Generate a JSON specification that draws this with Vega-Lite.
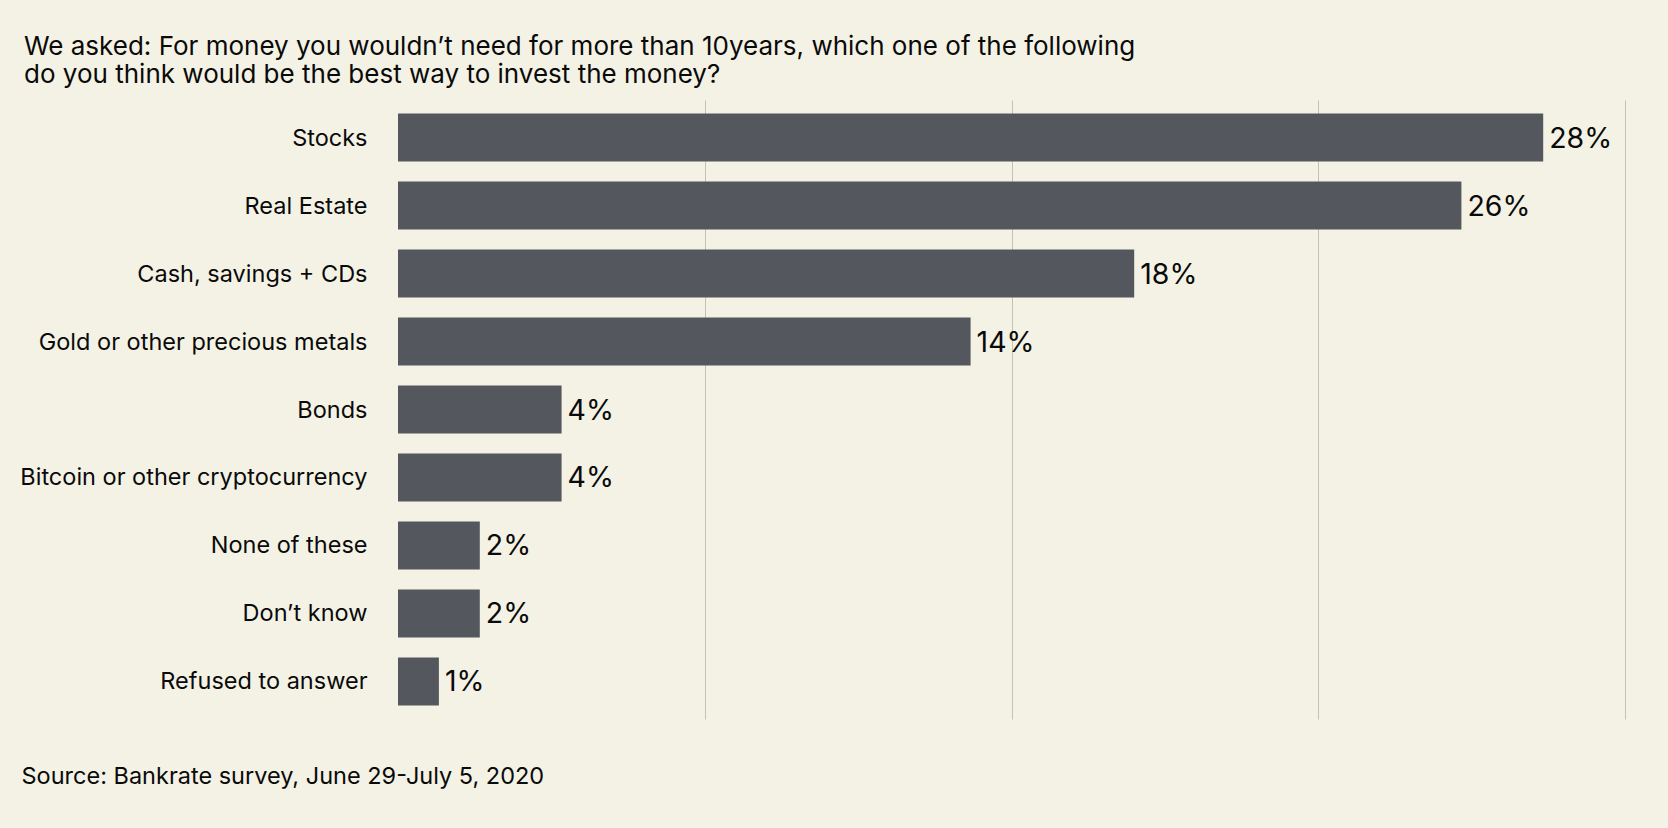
{
  "$schema": "https://vega.github.io/schema/vega-lite/v6.json",
  "width": 1227,
  "height": 619,
  "autosize": {"type": "none"},
  "padding": {"left": 398, "top": 100, "right": 43, "bottom": 109},
  "background": "#F4F2E5",
  "title": {
    "text": ["We asked: For money you wouldn’t need for more than 10years, which one of the following", "do you think would be the best way to invest the money?"],
    "anchor": "start",
    "frame": "group",
    "dx": -374,
    "offset": -9,
    "baseline": "alphabetic",
    "lineHeight": 28,
    "font": "Inter",
    "fontSize": 26,
    "fontWeight": "normal",
    "color": "#0A0A0A"
  },
  "data": {
    "values": [
      {"answer": "Stocks", "share": 0.28},
      {"answer": "Real Estate", "share": 0.26},
      {"answer": "Cash, savings + CDs", "share": 0.18},
      {"answer": "Gold or other precious metals", "share": 0.14},
      {"answer": "Bonds", "share": 0.04},
      {"answer": "Bitcoin or other cryptocurrency", "share": 0.04},
      {"answer": "None of these", "share": 0.02},
      {"answer": "Don’t know", "share": 0.02},
      {"answer": "Refused to answer", "share": 0.01}
    ]
  },
  "encoding": {
    "y": {
      "field": "answer",
      "type": "nominal",
      "sort": null,
      "scale": {"paddingInner": 0.294, "paddingOuter": 0.2},
      "axis": {
        "title": null,
        "ticks": false,
        "domain": false,
        "labelPadding": 31,
        "labelFont": "Inter",
        "labelFontSize": 23.5,
        "labelColor": "#0A0A0A",
        "labelLimit": 0,
        "labelOffset": 1
      }
    },
    "x": {
      "field": "share",
      "type": "quantitative",
      "scale": {"domain": [0, 0.3], "nice": false},
      "axis": {
        "values": [0.075, 0.15, 0.225, 0.3],
        "labels": false,
        "ticks": false,
        "domain": false,
        "grid": true,
        "gridColor": "#C4C2B8",
        "gridWidth": 1,
        "title": "Source: Bankrate survey, June 29-July 5, 2020",
        "titleX": -377,
        "titleY": 64,
        "titleAlign": "left",
        "titleBaseline": "alphabetic",
        "titleFont": "Inter",
        "titleFontSize": 23.5,
        "titleFontWeight": "normal",
        "titleColor": "#0A0A0A"
      }
    }
  },
  "layer": [
    {"mark": {"type": "bar", "color": "#54585E"}},
    {
      "mark": {"type": "text", "align": "left", "baseline": "middle", "dx": 6, "dy": 1, "font": "Inter", "fontSize": 28.5, "color": "#0A0A0A"},
      "encoding": {"text": {"field": "share", "type": "quantitative", "format": ".0%"}}
    }
  ],
  "config": {"view": {"stroke": null}}
}
